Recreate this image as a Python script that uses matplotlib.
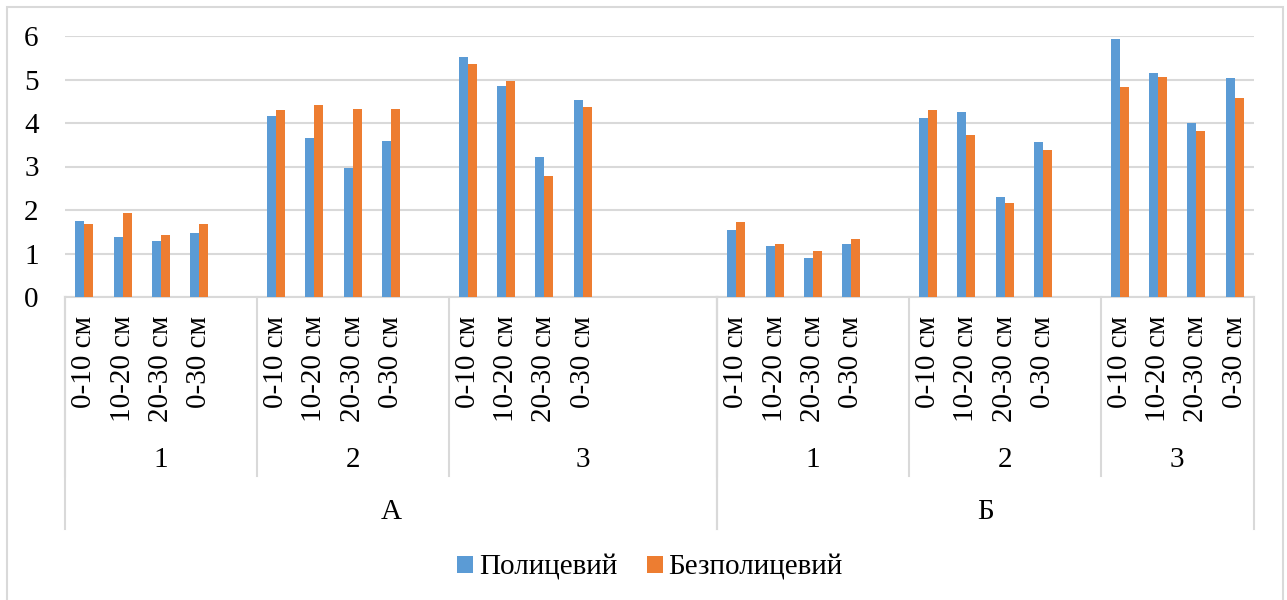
import matplotlib.pyplot as plt
import matplotlib.transforms as mtransforms
from matplotlib.patches import Rectangle
import numpy as np

plt.rcParams['font.family'] = ['Liberation Serif', 'DejaVu Serif']

groups = ['А', 'Б']
plots = ['1', '2', '3']
depths = ['0-10 см', '10-20 см', '20-30 см', '0-30 см']
series_names = ['Полицевий', 'Безполицевий']

polytsevyi = [1.75, 1.39, 1.29, 1.47,
              4.15, 3.66, 2.96, 3.58,
              5.52, 4.86, 3.21, 4.53,
              1.55, 1.18, 0.89, 1.21,
              4.12, 4.25, 2.31, 3.56,
              5.92, 5.16, 3.99, 5.03]
bezpolytsevyi = [1.68, 1.92, 1.42, 1.68,
                 4.29, 4.42, 4.32, 4.33,
                 5.36, 4.97, 2.78, 4.37,
                 1.72, 1.21, 1.05, 1.33,
                 4.29, 3.72, 2.16, 3.39,
                 4.82, 5.06, 3.82, 4.57]

# empty category slots after each plot block (as in the source sheet)
blank_after = [1, 1, 3, 1, 1, 0]

blue = '#5B9BD5'
orange = '#ED7D31'
grid_c = '#D9D9D9'
fs = 21

# slot positions
xpos = []
sub_bounds = []   # (start, end) of each plot block
slot = 0
for b in range(len(groups) * len(plots)):
    start = slot
    for d in range(len(depths)):
        xpos.append(slot)
        slot += 1
    slot += blank_after[b]
    sub_bounds.append((start - 0.5, slot - 0.5))
n_slots = slot
xpos = np.array(xpos)

W, H = 1287, 600
fig = plt.figure(figsize=(W / 100, H / 100), dpi=100)
ax = fig.add_axes([65 / W, 1 - 297 / H, 1189 / W, 261 / H])

bw = 0.235
ax.bar(xpos - bw / 2, polytsevyi, bw, color=blue, label=series_names[0], zorder=3)
ax.bar(xpos + bw / 2, bezpolytsevyi, bw, color=orange, label=series_names[1], zorder=3)

ax.set_xlim(-0.5, n_slots - 0.5)
ax.set_ylim(0, 6)
ax.set_yticks(range(7))
ax.set_yticklabels([str(v) for v in range(7)], fontsize=fs)
ax.tick_params(axis='y', length=0, pad=19)
ax.set_xticks([])
ax.yaxis.grid(True, color=grid_c, linewidth=1.5, zorder=0)
for s in ['top', 'right', 'left']:
    ax.spines[s].set_visible(False)
ax.spines['bottom'].set_color(grid_c)
ax.spines['bottom'].set_linewidth(1.5)

tr = mtransforms.blended_transform_factory(ax.transData, fig.transFigure)

def fy(px):
    return 1 - px / H

# depth labels
for i, x in enumerate(xpos):
    ax.text(x, fy(316), depths[i % len(depths)], transform=tr, rotation=90,
            ha='center', va='top', fontsize=fs)

# plot labels and separators
for k, (a, b) in enumerate(sub_bounds):
    ax.text((a + b) / 2, fy(460), plots[k % len(plots)], transform=tr,
            ha='center', va='center', fontsize=fs)
    ax.plot([a, a], [fy(297), fy(476)], transform=tr, color=grid_c,
            lw=1.5, clip_on=False)

# group labels and separators
per_group = len(plots)
for g in range(len(groups)):
    a = sub_bounds[g * per_group][0]
    b = sub_bounds[(g + 1) * per_group - 1][1]
    ax.text((a + b) / 2, fy(512), groups[g], transform=tr,
            ha='center', va='center', fontsize=fs)
    for xx in (a, b):
        ax.plot([xx, xx], [fy(297), fy(529)], transform=tr, color=grid_c,
                lw=1.5, clip_on=False)

fig.legend(loc='center', bbox_to_anchor=(650 / W, fy(568)), ncol=2,
           frameon=False, fontsize=fs, handlelength=0.55, handleheight=0.55,
           handletextpad=0.2, columnspacing=1.0)

# chart area border
fig.patches.append(Rectangle((7 / W, fy(606)), 1276 / W, 599 / H,
                             transform=fig.transFigure, fill=False,
                             edgecolor=grid_c, linewidth=1.5))

fig.savefig('out.png', dpi=100, facecolor='white')
